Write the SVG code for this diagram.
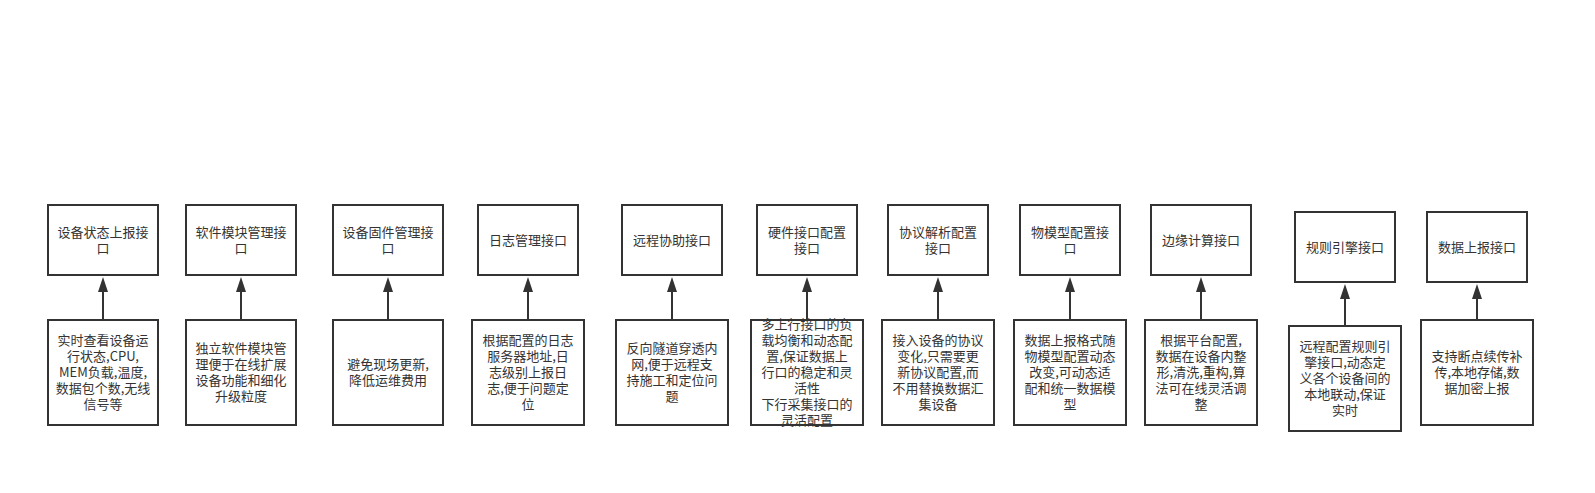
<svg xmlns="http://www.w3.org/2000/svg" width="1595" height="493" viewBox="0 0 1595 493">
<style>
.box{fill:#fff;stroke:#333;stroke-width:2}
.t{font-family:"Noto Sans CJK SC","Noto Sans",sans-serif;font-size:13px;fill:#333;text-anchor:middle}
.c{stroke:#333;stroke-width:2;fill:none}
.h{fill:#333}
</style>
<rect width="1595" height="493" fill="#fff"/>
<g id="connectors">
<line class="c" x1="103" y1="320" x2="103" y2="290"/><path class="h" d="M98,292 L103,277 L108,292 Z"/>
<line class="c" x1="241" y1="320" x2="241" y2="290"/><path class="h" d="M236,292 L241,277 L246,292 Z"/>
<line class="c" x1="388" y1="320" x2="388" y2="290"/><path class="h" d="M383,292 L388,277 L393,292 Z"/>
<line class="c" x1="528" y1="320" x2="528" y2="290"/><path class="h" d="M523,292 L528,277 L533,292 Z"/>
<line class="c" x1="672" y1="320" x2="672" y2="290"/><path class="h" d="M667,292 L672,277 L677,292 Z"/>
<line class="c" x1="807" y1="320" x2="807" y2="290"/><path class="h" d="M802,292 L807,277 L812,292 Z"/>
<line class="c" x1="938" y1="320" x2="938" y2="290"/><path class="h" d="M933,292 L938,277 L943,292 Z"/>
<line class="c" x1="1070" y1="320" x2="1070" y2="290"/><path class="h" d="M1065,292 L1070,277 L1075,292 Z"/>
<line class="c" x1="1201" y1="320" x2="1201" y2="290"/><path class="h" d="M1196,292 L1201,277 L1206,292 Z"/>
<line class="c" x1="1345" y1="326" x2="1345" y2="297"/><path class="h" d="M1340,299 L1345,284 L1350,299 Z"/>
<line class="c" x1="1477" y1="320" x2="1477" y2="297"/><path class="h" d="M1472,299 L1477,284 L1482,299 Z"/>
</g>
<g id="n1"><rect class="box" x="48" y="205" width="110" height="70"/><text class="t"><tspan x="103" y="236.7">设备状态上报接</tspan><tspan x="103" y="252.7">口</tspan></text></g>
<g id="n2"><rect class="box" x="186" y="205" width="110" height="70"/><text class="t"><tspan x="241" y="236.7">软件模块管理接</tspan><tspan x="241" y="252.7">口</tspan></text></g>
<g id="n3"><rect class="box" x="333" y="205" width="110" height="70"/><text class="t"><tspan x="388" y="236.7">设备固件管理接</tspan><tspan x="388" y="252.7">口</tspan></text></g>
<g id="n4"><rect class="box" x="478" y="205" width="100" height="70"/><text class="t" x="528" y="244.7">日志管理接口</text></g>
<g id="n5"><rect class="box" x="622" y="205" width="100" height="70"/><text class="t" x="672" y="244.7">远程协助接口</text></g>
<g id="n6"><rect class="box" x="757" y="205" width="100" height="70"/><text class="t"><tspan x="807" y="236.7">硬件接口配置</tspan><tspan x="807" y="252.7">接口</tspan></text></g>
<g id="n7"><rect class="box" x="888" y="205" width="100" height="70"/><text class="t"><tspan x="938" y="236.7">协议解析配置</tspan><tspan x="938" y="252.7">接口</tspan></text></g>
<g id="n8"><rect class="box" x="1020" y="205" width="100" height="70"/><text class="t"><tspan x="1070" y="236.7">物模型配置接</tspan><tspan x="1070" y="252.7">口</tspan></text></g>
<g id="n9"><rect class="box" x="1151" y="205" width="100" height="70"/><text class="t" x="1201" y="244.7">边缘计算接口</text></g>
<g id="n10"><rect class="box" x="1295" y="212" width="100" height="70"/><text class="t" x="1345" y="251.7">规则引擎接口</text></g>
<g id="n11"><rect class="box" x="1427" y="212" width="100" height="70"/><text class="t" x="1477" y="251.7">数据上报接口</text></g>
<g id="d1"><rect class="box" x="48" y="320" width="110" height="105"/><text class="t"><tspan x="103" y="345.2">实时查看设备运</tspan><tspan x="103" y="361.2">行状态,CPU,</tspan><tspan x="103" y="377.2">MEM负载,温度,</tspan><tspan x="103" y="393.2">数据包个数,无线</tspan><tspan x="103" y="409.2">信号等</tspan></text></g>
<g id="d2"><rect class="box" x="186" y="320" width="110" height="105"/><text class="t"><tspan x="241" y="353.2">独立软件模块管</tspan><tspan x="241" y="369.2">理便于在线扩展</tspan><tspan x="241" y="385.2">设备功能和细化</tspan><tspan x="241" y="401.2">升级粒度</tspan></text></g>
<g id="d3"><rect class="box" x="333" y="320" width="110" height="105"/><text class="t"><tspan x="388" y="369.2">避免现场更新,</tspan><tspan x="388" y="385.2">降低运维费用</tspan></text></g>
<g id="d4"><rect class="box" x="472" y="320" width="112" height="105"/><text class="t"><tspan x="528" y="345.2">根据配置的日志</tspan><tspan x="528" y="361.2">服务器地址,日</tspan><tspan x="528" y="377.2">志级别上报日</tspan><tspan x="528" y="393.2">志,便于问题定</tspan><tspan x="528" y="409.2">位</tspan></text></g>
<g id="d5"><rect class="box" x="616" y="320" width="112" height="105"/><text class="t"><tspan x="672" y="353.2">反向隧道穿透内</tspan><tspan x="672" y="369.2">网,便于远程支</tspan><tspan x="672" y="385.2">持施工和定位问</tspan><tspan x="672" y="401.2">题</tspan></text></g>
<g id="d6"><rect class="box" x="751" y="320" width="112" height="105"/><text class="t"><tspan x="807" y="329.2">多上行接口的负</tspan><tspan x="807" y="345.2">载均衡和动态配</tspan><tspan x="807" y="361.2">置,保证数据上</tspan><tspan x="807" y="377.2">行口的稳定和灵</tspan><tspan x="807" y="393.2">活性</tspan><tspan x="807" y="409.2">下行采集接口的</tspan><tspan x="807" y="425.2">灵活配置</tspan></text></g>
<g id="d7"><rect class="box" x="882" y="320" width="112" height="105"/><text class="t"><tspan x="938" y="345.2">接入设备的协议</tspan><tspan x="938" y="361.2">变化,只需要更</tspan><tspan x="938" y="377.2">新协议配置,而</tspan><tspan x="938" y="393.2">不用替换数据汇</tspan><tspan x="938" y="409.2">集设备</tspan></text></g>
<g id="d8"><rect class="box" x="1014" y="320" width="112" height="105"/><text class="t"><tspan x="1070" y="345.2">数据上报格式随</tspan><tspan x="1070" y="361.2">物模型配置动态</tspan><tspan x="1070" y="377.2">改变,可动态适</tspan><tspan x="1070" y="393.2">配和统一数据模</tspan><tspan x="1070" y="409.2">型</tspan></text></g>
<g id="d9"><rect class="box" x="1145" y="320" width="112" height="105"/><text class="t"><tspan x="1201" y="345.2">根据平台配置,</tspan><tspan x="1201" y="361.2">数据在设备内整</tspan><tspan x="1201" y="377.2">形,清洗,重构,算</tspan><tspan x="1201" y="393.2">法可在线灵活调</tspan><tspan x="1201" y="409.2">整</tspan></text></g>
<g id="d10"><rect class="box" x="1289" y="326" width="112" height="105"/><text class="t"><tspan x="1345" y="351.2">远程配置规则引</tspan><tspan x="1345" y="367.2">擎接口,动态定</tspan><tspan x="1345" y="383.2">义各个设备间的</tspan><tspan x="1345" y="399.2">本地联动,保证</tspan><tspan x="1345" y="415.2">实时</tspan></text></g>
<g id="d11"><rect class="box" x="1421" y="320" width="112" height="105"/><text class="t"><tspan x="1477" y="361.2">支持断点续传补</tspan><tspan x="1477" y="377.2">传,本地存储,数</tspan><tspan x="1477" y="393.2">据加密上报</tspan></text></g>
</svg>
